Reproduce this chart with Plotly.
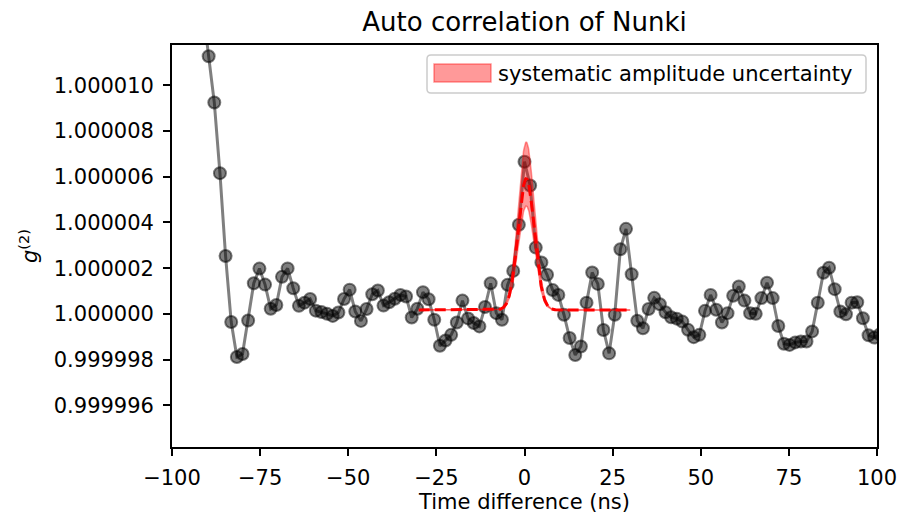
import numpy as np
import plotly.graph_objects as go

# time lags (ns), bin spacing 1.6 ns
bin_index = list(range(-57, 64))
tau = [round(k * 1.6, 1) for k in bin_index]

# g2 - 1 in units of 1e-6
g2_dev = [
    13.3, 11.28, 9.25, 6.16, 2.53, -0.36, -1.89, -1.76, -0.29, 1.34,
    1.98, 1.28, 0.22, 0.39, 1.62, 1.99, 1.12, 0.35, 0.49, 0.65,
    0.14, 0.08, 0.0, -0.09, 0.06, 0.65, 1.06, 0.10, -0.31, 0.21,
    0.86, 1.02, 0.36, 0.51, 0.66, 0.83, 0.76, -0.16, 0.22, 0.95,
    0.64, -0.26, -1.40, -1.17, -0.92, -0.38, 0.58, -0.20, -0.40, -0.55,
    0.30, 1.34, 0.03, -0.26, 1.27, 1.88, 3.90, 6.66, 5.62, 2.90,
    2.25, 1.71, 1.04, 0.83, -0.04, -1.06, -1.80, -1.43, 0.49, 1.81,
    1.31, -0.71, -1.73, -0.04, 2.83, 3.72, 1.73, -0.30, -0.63, 0.21,
    0.70, 0.42, 0.07, -0.15, -0.21, -0.34, -0.70, -1.02, -0.92, 0.13,
    0.83, 0.18, -0.38, 0.03, 0.79, 1.20, 0.58, 0.03, 0.0, 0.69,
    1.36, 0.69, -0.53, -1.31, -1.36, -1.25, -1.21, -1.21, -0.77, 0.49,
    1.80, 2.02, 1.08, 0.10, -0.02, 0.49, 0.51, -0.19, -0.94, -1.04,
    -0.90,
]
g2 = [1.0 + v * 1e-6 for v in g2_dev]

# Gaussian fit parameters (units 1e-6 / ns)
fit_baseline = 0.17
fit_amplitude = 5.75
fit_amp_upper = 7.35
fit_amp_lower = 4.55
fit_center = 0.5
fit_sigma = 2.3
fit_range = (-30.0, 30.0)

legend_label = "systematic amplitude uncertainty"
y_tick_vals = [0.999996, 0.999998, 1.000000, 1.000002, 1.000004,
               1.000006, 1.000008, 1.000010]
y_tick_text = ["0.999996", "0.999998", "1.000000", "1.000002", "1.000004",
               "1.000006", "1.000008", "1.000010"]
x_tick_vals = [-100, -75, -50, -25, 0, 25, 50, 75, 100]

tf = np.linspace(fit_range[0], fit_range[1], 601)


def gauss(amp):
    return 1.0 + 1e-6 * (fit_baseline + amp * np.exp(-0.5 * ((tf - fit_center) / fit_sigma) ** 2))


FONT = "DejaVu Sans"
FS = 21
W, H = 899, 514
ML, MR, MT, MB = 172, 22, 45, 67
PW, PH = W - ML - MR, H - MT - MB


def px(xp):
    return (xp - ML) / PW


def py(yp):
    return (H - MB - yp) / PH


fig = go.Figure()

fig.add_trace(go.Scatter(
    x=tau, y=g2, mode="lines+markers", showlegend=False,
    line=dict(color="rgba(0,0,0,0.5)", width=3),
    marker=dict(size=12, color="rgba(0,0,0,0.5)",
                line=dict(color="rgba(0,0,0,0.5)", width=2)),
))

fig.add_trace(go.Scatter(
    x=tf, y=gauss(fit_amp_lower), mode="lines", showlegend=False,
    line=dict(color="rgba(255,0,0,0.4)", width=1.5),
))
fig.add_trace(go.Scatter(
    x=tf, y=gauss(fit_amp_upper), mode="lines", fill="tonexty",
    fillcolor="rgba(255,0,0,0.4)", name=legend_label, showlegend=False,
    line=dict(color="rgba(255,0,0,0.4)", width=1.5),
))
fig.add_trace(go.Scatter(
    x=tf, y=gauss(fit_amplitude), mode="lines", showlegend=False,
    line=dict(color="#ff0000", width=3, dash="11px,5px"),
))

# legend box (rounded), drawn in paper coordinates
x0, x1, y0, y1 = 427, 866, 55, 93
r = 4
rx, ry = r / PW, r / PH
X0, X1, Y0, Y1 = px(x0), px(x1), py(y1), py(y0)
path = (f"M{X0+rx},{Y0} L{X1-rx},{Y0} Q{X1},{Y0} {X1},{Y0+ry} "
        f"L{X1},{Y1-ry} Q{X1},{Y1} {X1-rx},{Y1} L{X0+rx},{Y1} "
        f"Q{X0},{Y1} {X0},{Y1-ry} L{X0},{Y0+ry} Q{X0},{Y0} {X0+rx},{Y0} Z")
shapes = [
    dict(type="path", path=path, xref="paper", yref="paper",
         fillcolor="rgba(255,255,255,0.8)", line=dict(color="#cccccc", width=1.5),
         layer="above"),
    dict(type="rect", xref="paper", yref="paper",
         x0=px(434), x1=px(491), y0=py(82), y1=py(64),
         fillcolor="rgba(255,0,0,0.4)", line=dict(color="rgba(255,0,0,0.4)", width=1.5),
         layer="above"),
]
annotations = [
    dict(text=legend_label, xref="paper", yref="paper", x=px(496), y=py(73.5),
         xanchor="left", yanchor="middle", showarrow=False,
         font=dict(family=FONT, size=FS, color="black")),
]

axis_common = dict(
    showgrid=False, zeroline=False, showline=True, linecolor="black",
    linewidth=1.7, mirror=True, ticks="outside", ticklen=7, tickwidth=1.7,
    tickcolor="black", tickfont=dict(family=FONT, size=FS, color="black"),
    automargin=False,
)

fig.update_layout(
    width=W, height=H,
    margin=dict(l=ML, r=MR, t=MT, b=MB),
    paper_bgcolor="white", plot_bgcolor="white",
    font=dict(family=FONT, color="black"),
    showlegend=False,
    title=dict(text="Auto correlation of Nunki", x=0.5, xref="paper",
               y=1 - 22 / H, yref="container", yanchor="middle",
               font=dict(family=FONT, size=26, color="black")),
    xaxis=dict(range=[-100, 100], tickvals=x_tick_vals,
               title=dict(text="Time difference (ns)", standoff=4,
                          font=dict(family=FONT, size=FS, color="black")),
               ticklabelstandoff=4, **axis_common),
    yaxis=dict(range=[1 - 5.83e-6, 1 + 11.77e-6], tickvals=y_tick_vals,
               ticktext=y_tick_text,
               title=dict(text="<i>g</i><sup>(2)</sup>", standoff=10,
                          font=dict(family=FONT, size=FS, color="black")),
               ticklabelstandoff=5, **axis_common),
    shapes=shapes,
    annotations=annotations,
)

fig.write_html("out.html")
